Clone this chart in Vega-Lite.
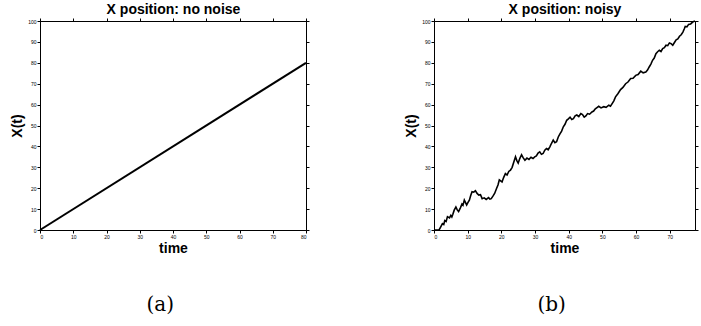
{
  "$schema": "https://vega.github.io/schema/vega-lite/v6.json",
  "background": "white",
  "padding": {"left": 10, "top": 2, "right": 1, "bottom": 5},
  "config": {
    "font": "Liberation Sans",
    "view": {"stroke": "black", "strokeWidth": 1},
    "axis": {"grid": false, "domainColor": "black", "tickColor": "black", "labelColor": "black", "titleColor": "black", "labelFontSize": 5, "tickSize": 3, "labelPadding": 1, "titleFont": "Liberation Sans", "titleFontWeight": "bold", "titleFontSize": 14},
    "title": {"font": "DejaVu Serif", "fontSize": 20, "fontWeight": "normal", "orient": "bottom", "offset": 40, "color": "black", "frame": "bounds"},
    "concat": {"spacing": 93}
  },
  "datasets": {
    "a": [{"t": 0, "x": 0}, {"t": 80, "x": 80}],
    "b": [
      {"t": 0, "x": 0}, {"t": 1.5, "x": 0}, {"t": 2, "x": 1.5}, {"t": 2.5, "x": 3}, {"t": 2.9, "x": 2.6}, {"t": 3.2, "x": 4.5}, {"t": 3.6, "x": 4.1}, {"t": 4, "x": 6.4}, {"t": 4.6, "x": 5.8}, {"t": 5, "x": 7}, {"t": 5.3, "x": 6.2}, {"t": 5.6, "x": 7.5},
      {"t": 6, "x": 9.5}, {"t": 6.5, "x": 11}, {"t": 6.9, "x": 9.6}, {"t": 7.3, "x": 8.8}, {"t": 7.8, "x": 10.5}, {"t": 8.3, "x": 12.4}, {"t": 8.6, "x": 11.8}, {"t": 9, "x": 14.3}, {"t": 9.7, "x": 12},
      {"t": 10.1, "x": 13.2}, {"t": 10.5, "x": 14.3}, {"t": 10.9, "x": 16.5}, {"t": 11.3, "x": 18.3}, {"t": 11.8, "x": 18.1}, {"t": 12.3, "x": 18.8}, {"t": 12.8, "x": 17.5}, {"t": 13.3, "x": 16.7}, {"t": 13.8, "x": 16.9}, {"t": 14.3, "x": 15},
      {"t": 14.9, "x": 15.4}, {"t": 15.5, "x": 14.6}, {"t": 16.2, "x": 15.5}, {"t": 16.6, "x": 14.8}, {"t": 17, "x": 15}, {"t": 17.5, "x": 16.2}, {"t": 18, "x": 17.5}, {"t": 18.6, "x": 20}, {"t": 19, "x": 21.5}, {"t": 19.4, "x": 24},
      {"t": 20.2, "x": 23}, {"t": 20.7, "x": 25.2}, {"t": 21.2, "x": 27}, {"t": 21.7, "x": 26.3}, {"t": 22.2, "x": 28}, {"t": 22.7, "x": 28.6}, {"t": 23.2, "x": 30}, {"t": 23.7, "x": 32.5}, {"t": 24.2, "x": 35},
      {"t": 24.6, "x": 33.2}, {"t": 25, "x": 32}, {"t": 25.5, "x": 34.3}, {"t": 26, "x": 36}, {"t": 26.5, "x": 34.5}, {"t": 27, "x": 33.4}, {"t": 27.6, "x": 34.4}, {"t": 28.2, "x": 33.8}, {"t": 28.8, "x": 34.8}, {"t": 29.4, "x": 34.2},
      {"t": 29.9, "x": 35}, {"t": 30.4, "x": 35.4}, {"t": 30.9, "x": 36.8}, {"t": 31.4, "x": 37.4}, {"t": 31.9, "x": 36.2}, {"t": 32.4, "x": 36.6}, {"t": 32.9, "x": 38.2}, {"t": 33.4, "x": 39}, {"t": 33.9, "x": 38.4}, {"t": 34.4, "x": 39.8},
      {"t": 34.9, "x": 41.5}, {"t": 35.4, "x": 43}, {"t": 35.9, "x": 41.8}, {"t": 36.4, "x": 42.2}, {"t": 36.9, "x": 44.5}, {"t": 37.4, "x": 46}, {"t": 37.9, "x": 47.3}, {"t": 38.4, "x": 49.4}, {"t": 38.9, "x": 50.6}, {"t": 39.4, "x": 52.5},
      {"t": 39.9, "x": 53.2}, {"t": 40.4, "x": 54}, {"t": 40.9, "x": 52.9}, {"t": 41.4, "x": 53.3}, {"t": 41.9, "x": 54.6}, {"t": 42.4, "x": 55}, {"t": 43, "x": 54.3}, {"t": 43.6, "x": 55.7}, {"t": 44.1, "x": 55.2}, {"t": 44.6, "x": 54},
      {"t": 45.1, "x": 54.6}, {"t": 45.6, "x": 55.7}, {"t": 46.2, "x": 55.4}, {"t": 46.9, "x": 56.5}, {"t": 47.4, "x": 56.9}, {"t": 47.9, "x": 58}, {"t": 48.4, "x": 58.6}, {"t": 48.9, "x": 59.2}, {"t": 49.6, "x": 58.4}, {"t": 50.4, "x": 59},
      {"t": 51.1, "x": 58.7}, {"t": 51.9, "x": 59.7}, {"t": 52.4, "x": 59.2}, {"t": 52.9, "x": 60.5}, {"t": 53.4, "x": 61.8}, {"t": 53.9, "x": 63.7}, {"t": 54.6, "x": 65.2}, {"t": 55.4, "x": 67.2}, {"t": 56.1, "x": 68.2}, {"t": 56.9, "x": 70},
      {"t": 57.6, "x": 70.8}, {"t": 58.4, "x": 72.5}, {"t": 59.1, "x": 72.6}, {"t": 59.9, "x": 74}, {"t": 60.6, "x": 74.4}, {"t": 61.4, "x": 76}, {"t": 62.1, "x": 75.2}, {"t": 62.9, "x": 75.6}, {"t": 63.4, "x": 76.5}, {"t": 63.9, "x": 78},
      {"t": 64.4, "x": 79.4}, {"t": 64.9, "x": 81.2}, {"t": 65.4, "x": 82.3}, {"t": 65.9, "x": 84.4}, {"t": 66.4, "x": 85.3}, {"t": 66.9, "x": 86}, {"t": 67.4, "x": 85.4}, {"t": 67.9, "x": 86.8}, {"t": 68.4, "x": 87.2}, {"t": 68.9, "x": 88.4},
      {"t": 69.4, "x": 88.2}, {"t": 69.9, "x": 89.5}, {"t": 70.4, "x": 89.2}, {"t": 70.9, "x": 88.4}, {"t": 71.4, "x": 89.7}, {"t": 71.9, "x": 91}, {"t": 72.4, "x": 91.4}, {"t": 72.9, "x": 92.7}, {"t": 73.4, "x": 93.4}, {"t": 73.9, "x": 94.7},
      {"t": 74.3, "x": 96.2}, {"t": 74.6, "x": 97.4}, {"t": 75.1, "x": 97.2}, {"t": 75.6, "x": 98.4}, {"t": 76.2, "x": 98.6}, {"t": 76.8, "x": 99.5}, {"t": 77.5, "x": 100}
    ]
  },
  "hconcat": [
    {
      "width": 266, "height": 209,
      "title": {"text": "(a)"},
      "data": {"name": "a"},
      "layer": [
        {
          "mark": {"type": "line", "color": "black", "strokeWidth": 2},
          "encoding": {
            "x": {"field": "t", "type": "quantitative", "scale": {"domain": [0, 80], "nice": false}, "axis": {"title": "time", "values": [0, 10, 20, 30, 40, 50, 60, 70, 80], "titlePadding": 2}},
            "y": {"field": "x", "type": "quantitative", "scale": {"domain": [0, 100], "nice": false}, "axis": {"title": "X(t)", "values": [0, 10, 20, 30, 40, 50, 60, 70, 80, 90, 100], "titlePadding": 3}}
          }
        },
        {
          "mark": {"type": "point", "opacity": 0},
          "encoding": {
            "x": {"field": "t", "type": "quantitative", "scale": {"domain": [0, 80], "nice": false}, "axis": {"orient": "top", "labels": false, "title": "X position: no noise", "values": [0, 10, 20, 30, 40, 50, 60, 70, 80], "titlePadding": 1}},
            "y": {"field": "x", "type": "quantitative", "scale": {"domain": [0, 100], "nice": false}, "axis": {"orient": "right", "labels": false, "title": null, "values": [0, 10, 20, 30, 40, 50, 60, 70, 80, 90, 100]}}
          }
        }
      ],
      "resolve": {"axis": {"x": "independent", "y": "independent"}}
    },
    {
      "width": 261, "height": 209,
      "title": {"text": "(b)"},
      "data": {"name": "b"},
      "layer": [
        {
          "mark": {"type": "line", "color": "black", "strokeWidth": 1.6},
          "encoding": {
            "x": {"field": "t", "type": "quantitative", "scale": {"domain": [0, 77.5], "nice": false}, "axis": {"title": "time", "values": [0, 10, 20, 30, 40, 50, 60, 70], "titlePadding": 2}},
            "y": {"field": "x", "type": "quantitative", "scale": {"domain": [0, 100], "nice": false}, "axis": {"title": "X(t)", "values": [0, 10, 20, 30, 40, 50, 60, 70, 80, 90, 100], "titlePadding": 3}}
          }
        },
        {
          "mark": {"type": "point", "opacity": 0},
          "encoding": {
            "x": {"field": "t", "type": "quantitative", "scale": {"domain": [0, 77.5], "nice": false}, "axis": {"orient": "top", "labels": false, "title": "X position: noisy", "values": [0, 10, 20, 30, 40, 50, 60, 70], "titlePadding": 1}},
            "y": {"field": "x", "type": "quantitative", "scale": {"domain": [0, 100], "nice": false}, "axis": {"orient": "right", "labels": false, "title": null, "values": [0, 10, 20, 30, 40, 50, 60, 70, 80, 90, 100]}}
          }
        }
      ],
      "resolve": {"axis": {"x": "independent", "y": "independent"}}
    }
  ]
}
